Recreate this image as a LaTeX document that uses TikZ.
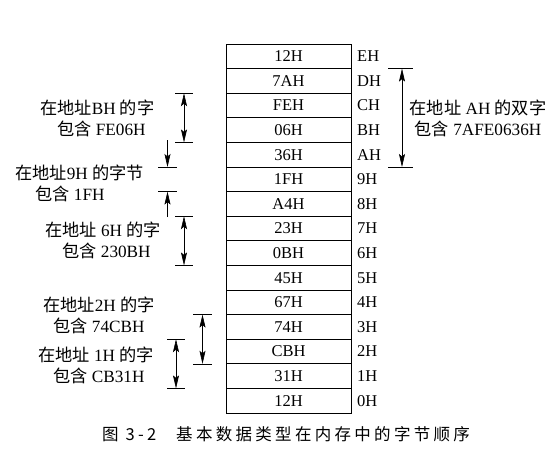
\documentclass[tikz,border=0pt]{standalone}
\usepackage{fontspec}
\setmainfont{Liberation Serif}
\newfontfamily\zh{Noto Sans CJK SC}
\newfontfamily\zhcap{Noto Sans CJK SC}[LetterSpace=20]
\usepackage{tikz}
\usetikzlibrary{arrows.meta}

\begin{document}
\begin{tikzpicture}[
    x=1pt, y=-1pt,
    >={Stealth[length=13pt, width=6pt, inset=2.5pt]},
    cell/.style={draw, line width=0.8pt, minimum width=125pt, minimum height=24.6pt, inner sep=0pt, font=\fontsize{16.5}{21}\selectfont},
    addr/.style={anchor=west, inner sep=0pt, font=\fontsize{16.5}{21}\selectfont},
    lbl/.style={inner sep=0pt, font=\fontsize{17.2}{21}\selectfont},
    lim/.style={line width=0.6pt},
    dbl/.style={<->, line width=0.6pt},
    sgl/.style={->, line width=0.6pt}
]
\useasboundingbox (0,0) rectangle (554,458);

% memory column, address 0H at the bottom
\foreach \v/\a [count=\i from 0] in {12H/0H,31H/1H,CBH/2H,74H/3H,67H/4H,45H/5H,0BH/6H,23H/7H,A4H/8H,1FH/9H,36H/AH,06H/BH,FEH/CH,7AH/DH,12H/EH} {
    \node[cell] (m\i) at (288.5,{44+(14.5-\i)*24.6}) {\v};
    \node[addr] (a\i) at (357,{44+(14.5-\i)*24.6}) {\a};
}

% double word at AH
\coordinate (dwT) at (402,68.6);
\coordinate (dwB) at (402,167);
\draw[lim] ([xshift=-14pt]dwT) -- ([xshift=11pt]dwT);
\draw[lim] ([xshift=-14pt]dwB) -- ([xshift=11pt]dwB);
\draw[dbl] (dwT) -- (dwB);
\node[lbl, align=center] (tAH) at (478,118) {{\zh 在地址} AH {\zh 的双字}\\{\zh 包含} 7AFE0636H};

% word at BH
\coordinate (wbT) at (184,93.2);
\coordinate (wbB) at (184,142.4);
\draw[lim] ([xshift=-9pt]wbT) -- ([xshift=9pt]wbT);
\draw[lim] ([xshift=-9pt]wbB) -- ([xshift=9pt]wbB);
\draw[dbl] (wbT) -- (wbB);
\node[lbl, anchor=west, align=left] (tBH) at (40,118) {{\zh 在地址}BH {\zh 的字}\\\hspace*{17pt}{\zh 包含} FE06H};

% byte at 9H
\coordinate (b9T) at (167.5,167);
\coordinate (b9B) at (167.5,191.6);
\coordinate (b9s) at (167.5,140);
\coordinate (b9e) at (167.5,217);
\draw[lim] ([xshift=-9.5pt]b9T) -- ([xshift=9.5pt]b9T);
\draw[lim] ([xshift=-9.5pt]b9B) -- ([xshift=9.5pt]b9B);
\draw[sgl] (b9s) -- (b9T);
\draw[sgl] (b9e) -- (b9B);
\node[lbl, anchor=west, align=left] (t9H) at (15,183) {{\zh 在地址}9H {\zh 的字节}\\\hspace*{20pt}{\zh 包含} 1FH};

% word at 6H
\coordinate (w6T) at (184,216.2);
\coordinate (w6B) at (184,265.4);
\draw[lim] ([xshift=-9pt]w6T) -- ([xshift=9pt]w6T);
\draw[lim] ([xshift=-9pt]w6B) -- ([xshift=9pt]w6B);
\draw[dbl] (w6T) -- (w6B);
\node[lbl, anchor=west, align=left] (t6H) at (45,240) {{\zh 在地址} 6H {\zh 的字}\\\hspace*{17pt}{\zh 包含} 230BH};

% word at 2H
\coordinate (w2T) at (202.5,314.6);
\coordinate (w2B) at (202.5,363.8);
\draw[lim] ([xshift=-9.5pt]w2T) -- ([xshift=9.5pt]w2T);
\draw[lim] ([xshift=-9.5pt]w2B) -- ([xshift=9.5pt]w2B);
\draw[dbl] (w2T) -- (w2B);
\node[lbl, anchor=west, align=left] (t2H) at (43,315) {{\zh 在地址}2H {\zh 的字}\\\hspace*{10pt}{\zh 包含} 74CBH};

% word at 1H
\coordinate (w1T) at (176,339.2);
\coordinate (w1B) at (176,388.4);
\draw[lim] ([xshift=-9pt]w1T) -- ([xshift=9pt]w1T);
\draw[lim] ([xshift=-9pt]w1B) -- ([xshift=9pt]w1B);
\draw[dbl] (w1T) -- (w1B);
\node[lbl, anchor=west, align=left] (t1H) at (38,365) {{\zh 在地址} 1H {\zh 的字}\\\hspace*{15pt}{\zh 包含} CB31H};

% caption
\node[lbl, font=\fontsize{16.5}{21}\selectfont] (cap) at (286,434) {{\zhcap 图 3-2}\hspace{20pt}{\zhcap 基本数据类型在内存中的字节顺序}};

\end{tikzpicture}
\end{document}
